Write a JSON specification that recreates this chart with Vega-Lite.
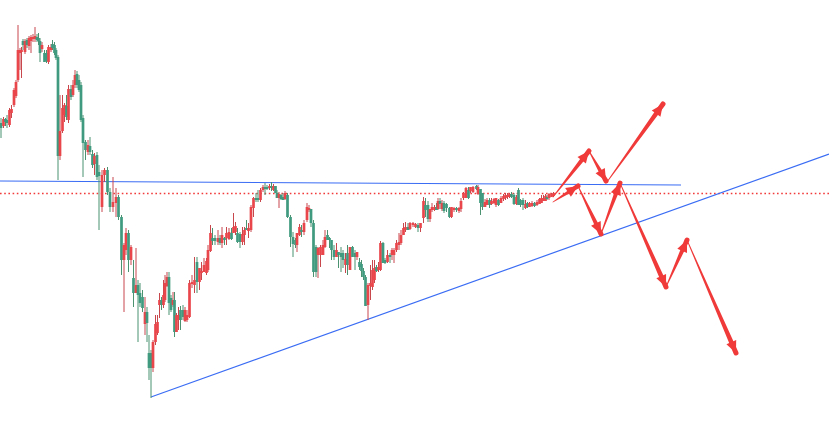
{
"$schema": "https://vega.github.io/schema/vega-lite/v6.json",
"width": 829, "height": 433,
"autosize": "none",
"padding": 0,
"background": "white",
"config": {"view": {"stroke": null}, "scale": {"continuousPadding": 0}},
"datasets": {
"candles": [
{"t":1,"o":123,"c":128,"h":118,"l":138},{"t":3.5,"o":126,"c":119,"h":117,"l":128},{"t":5.5,"o":119,"c":122,"h":118,"l":126},{"t":7,"o":120,"c":123,"h":115,"l":128},{"t":9.5,"o":125,"c":110,"h":108,"l":127},
{"t":11.5,"o":113,"c":109,"h":105,"l":118},{"t":14,"o":105,"c":90,"h":88,"l":107},{"t":16,"o":96,"c":82,"h":80,"l":98},{"t":18,"o":80,"c":50,"h":25,"l":82},{"t":20,"o":53,"c":50,"h":48,"l":70},
{"t":21.5,"o":52,"c":50,"h":47,"l":78},{"t":23,"o":41,"c":45,"h":39,"l":50},{"t":25,"o":52,"c":41,"h":39,"l":54},{"t":27,"o":40,"c":45,"h":38,"l":48},{"t":29,"o":46,"c":38,"h":36,"l":50},
{"t":31,"o":41,"c":37,"h":35,"l":53},{"t":33,"o":39,"c":37,"h":34,"l":42},{"t":35,"o":39,"c":36,"h":27,"l":42},{"t":37,"o":37,"c":40,"h":34,"l":42},{"t":38.5,"o":38,"c":41,"h":33,"l":45},
{"t":40,"o":41,"c":53,"h":38,"l":62},{"t":42,"o":49,"c":45,"h":42,"l":52},{"t":44.5,"o":53,"c":62,"h":50,"l":62},{"t":46.5,"o":53,"c":61,"h":50,"l":63},{"t":48.5,"o":62,"c":47,"h":45,"l":64},
{"t":51,"o":50,"c":47,"h":44,"l":52},{"t":52.5,"o":44,"c":48,"h":40,"l":50},{"t":54.5,"o":45,"c":53,"h":42,"l":55},{"t":56,"o":50,"c":58,"h":48,"l":60},{"t":58,"o":57,"c":156,"h":55,"l":180},
{"t":60,"o":156,"c":131,"h":95,"l":160},{"t":62.5,"o":131,"c":108,"h":95,"l":133},{"t":64.5,"o":115,"c":105,"h":103,"l":122},{"t":66.5,"o":106,"c":117,"h":95,"l":120},{"t":68.5,"o":120,"c":89,"h":85,"l":123},
{"t":71,"o":89,"c":97,"h":85,"l":100},{"t":73,"o":95,"c":85,"h":80,"l":97},{"t":75,"o":85,"c":75,"h":70,"l":88},{"t":77,"o":74,"c":85,"h":71,"l":88},{"t":79,"o":80,"c":90,"h":75,"l":92},
{"t":81,"o":85,"c":120,"h":82,"l":122},{"t":83,"o":118,"c":143,"h":115,"l":177},{"t":85.5,"o":142,"c":150,"h":140,"l":160},{"t":88,"o":152,"c":145,"h":140,"l":155},{"t":90,"o":146,"c":152,"h":137,"l":155},
{"t":92.5,"o":154,"c":165,"h":150,"l":168},{"t":94.5,"o":164,"c":156,"h":153,"l":175},{"t":97,"o":155,"c":177,"h":152,"l":180},{"t":99,"o":172,"c":176,"h":165,"l":230},{"t":102,"o":207,"c":175,"h":170,"l":212},
{"t":104.5,"o":175,"c":170,"h":168,"l":182},{"t":107.5,"o":170,"c":192,"h":167,"l":195},{"t":110,"o":192,"c":207,"h":188,"l":212},{"t":113,"o":207,"c":202,"h":177,"l":212},{"t":116,"o":203,"c":197,"h":188,"l":217},
{"t":118.5,"o":197,"c":217,"h":195,"l":220},{"t":121.5,"o":217,"c":260,"h":215,"l":275},{"t":124,"o":260,"c":245,"h":243,"l":312},{"t":126,"o":250,"c":233,"h":228,"l":255},{"t":128.5,"o":233,"c":260,"h":230,"l":272},
{"t":131,"o":260,"c":247,"h":245,"l":265},{"t":133.5,"o":278,"c":293,"h":260,"l":307},{"t":136,"o":293,"c":285,"h":248,"l":293},{"t":138,"o":285,"c":295,"h":280,"l":342},{"t":140,"o":293,"c":303,"h":283,"l":307},
{"t":142.5,"o":297,"c":308,"h":290,"l":312},{"t":145,"o":324,"c":312,"h":297,"l":335},{"t":147,"o":312,"c":323,"h":307,"l":342},{"t":149,"o":353,"c":368,"h":335,"l":380},{"t":151,"o":353,"c":368,"h":350,"l":398},
{"t":153,"o":368,"c":342,"h":340,"l":372},{"t":155.5,"o":342,"c":324,"h":315,"l":345},{"t":157.5,"o":333,"c":322,"h":315,"l":335},{"t":159.5,"o":305,"c":300,"h":293,"l":318},{"t":161.5,"o":300,"c":305,"h":297,"l":310},
{"t":163.5,"o":305,"c":295,"h":280,"l":308},{"t":165,"o":300,"c":283,"h":275,"l":302},{"t":167,"o":286,"c":277,"h":272,"l":287},{"t":169,"o":277,"c":303,"h":272,"l":315},{"t":171,"o":298,"c":310,"h":295,"l":312},
{"t":173,"o":305,"c":300,"h":292,"l":307},{"t":174.5,"o":300,"c":332,"h":292,"l":337},{"t":176.5,"o":332,"c":315,"h":313,"l":332},{"t":178.5,"o":320,"c":315,"h":307,"l":330},{"t":180.5,"o":310,"c":320,"h":306,"l":330},
{"t":183,"o":310,"c":317,"h":305,"l":320},{"t":185,"o":321,"c":310,"h":307,"l":322},{"t":187,"o":320,"c":315,"h":310,"l":322},{"t":189.5,"o":317,"c":283,"h":280,"l":318},{"t":192,"o":284,"c":282,"h":275,"l":288},
{"t":194.5,"o":285,"c":280,"h":257,"l":293},{"t":197,"o":262,"c":282,"h":257,"l":293},{"t":199.5,"o":282,"c":268,"h":268,"l":290},{"t":201.5,"o":273,"c":271,"h":262,"l":280},{"t":204,"o":272,"c":265,"h":258,"l":272},
{"t":206.5,"o":273,"c":261,"h":258,"l":275},{"t":208,"o":270,"c":250,"h":245,"l":272},{"t":210.5,"o":251,"c":233,"h":225,"l":252},{"t":212.5,"o":238,"c":241,"h":228,"l":245},{"t":215,"o":238,"c":241,"h":235,"l":245},
{"t":218,"o":242,"c":238,"h":230,"l":245},{"t":220,"o":238,"c":243,"h":235,"l":245},{"t":222,"o":243,"c":235,"h":227,"l":248},{"t":224.5,"o":238,"c":240,"h":237,"l":245},{"t":226.5,"o":238,"c":233,"h":227,"l":245},
{"t":229,"o":239,"c":232,"h":228,"l":240},{"t":231.5,"o":233,"c":239,"h":228,"l":240},{"t":233.5,"o":233,"c":227,"h":213,"l":233},{"t":235.5,"o":232,"c":226,"h":222,"l":235},{"t":237.5,"o":233,"c":242,"h":228,"l":243},
{"t":240,"o":234,"c":242,"h":232,"l":248},{"t":242.5,"o":242,"c":234,"h":227,"l":245},{"t":244.5,"o":235,"c":230,"h":227,"l":245},{"t":246.5,"o":228,"c":230,"h":220,"l":230},{"t":248.5,"o":231,"c":228,"h":223,"l":238},
{"t":251,"o":230,"c":207,"h":205,"l":232},{"t":253.5,"o":208,"c":198,"h":197,"l":217},{"t":256,"o":198,"c":200,"h":193,"l":202},{"t":258,"o":198,"c":200,"h":190,"l":202},{"t":260.5,"o":200,"c":190,"h":188,"l":202},
{"t":263,"o":190,"c":187,"h":185,"l":192},{"t":265,"o":187,"c":189,"h":183,"l":195},{"t":267,"o":187,"c":189,"h":185,"l":190},{"t":269.5,"o":188,"c":186,"h":184,"l":190},{"t":271.5,"o":186,"c":188,"h":182,"l":191},
{"t":273.5,"o":190,"c":186,"h":184,"l":191},{"t":275.5,"o":186,"c":193,"h":186,"l":193},{"t":277,"o":193,"c":198,"h":190,"l":198},{"t":279,"o":198,"c":194,"h":192,"l":208},{"t":281,"o":195,"c":199,"h":194,"l":200},
{"t":283,"o":197,"c":200,"h":193,"l":200},{"t":285,"o":199,"c":193,"h":191,"l":200},{"t":287.5,"o":195,"c":217,"h":193,"l":218},{"t":290.5,"o":217,"c":237,"h":215,"l":247},{"t":293,"o":237,"c":244,"h":232,"l":257},
{"t":295.5,"o":240,"c":245,"h":238,"l":248},{"t":297,"o":245,"c":233,"h":233,"l":252},{"t":299.5,"o":235,"c":227,"h":224,"l":236},{"t":301.5,"o":230,"c":232,"h":225,"l":237},{"t":304,"o":232,"c":223,"h":220,"l":235},
{"t":307,"o":220,"c":207,"h":203,"l":222},{"t":309,"o":210,"c":208,"h":205,"l":212},{"t":311,"o":209,"c":223,"h":209,"l":227},{"t":313.5,"o":223,"c":272,"h":220,"l":277},{"t":316,"o":247,"c":272,"h":245,"l":277},
{"t":318,"o":255,"c":248,"h":247,"l":278},{"t":320.5,"o":255,"c":247,"h":245,"l":267},{"t":323,"o":255,"c":245,"h":240,"l":255},{"t":325,"o":247,"c":237,"h":230,"l":248},{"t":327.5,"o":235,"c":240,"h":230,"l":240},
{"t":329.5,"o":238,"c":240,"h":237,"l":248},{"t":331.5,"o":240,"c":250,"h":240,"l":260},{"t":334,"o":250,"c":257,"h":245,"l":260},{"t":336.5,"o":257,"c":250,"h":243,"l":257},{"t":338.5,"o":252,"c":255,"h":252,"l":268},
{"t":341,"o":253,"c":257,"h":247,"l":272},{"t":343,"o":253,"c":260,"h":250,"l":268},{"t":345.5,"o":265,"c":259,"h":253,"l":273},{"t":347.5,"o":253,"c":265,"h":245,"l":275},{"t":350,"o":270,"c":247,"h":247,"l":270},
{"t":352.5,"o":247,"c":257,"h":246,"l":257},{"t":355,"o":253,"c":257,"h":250,"l":270},{"t":357,"o":257,"c":252,"h":252,"l":260},{"t":359.5,"o":262,"c":267,"h":258,"l":270},{"t":361.5,"o":264,"c":271,"h":260,"l":277},
{"t":363.5,"o":271,"c":277,"h":268,"l":280},{"t":365.5,"o":277,"c":306,"h":275,"l":306},{"t":368,"o":305,"c":285,"h":283,"l":320},{"t":370.5,"o":286,"c":283,"h":265,"l":300},{"t":372.5,"o":287,"c":270,"h":260,"l":290},
{"t":374.5,"o":280,"c":268,"h":260,"l":283},{"t":376.5,"o":267,"c":271,"h":265,"l":272},{"t":378.5,"o":270,"c":267,"h":262,"l":272},{"t":380.5,"o":270,"c":243,"h":241,"l":271},{"t":383,"o":243,"c":263,"h":242,"l":263},
{"t":385,"o":260,"c":263,"h":258,"l":264},{"t":387.5,"o":262,"c":255,"h":250,"l":263},{"t":390,"o":255,"c":257,"h":253,"l":263},{"t":392,"o":255,"c":250,"h":248,"l":260},{"t":394,"o":255,"c":250,"h":248,"l":263},
{"t":396.5,"o":250,"c":243,"h":240,"l":252},{"t":399,"o":245,"c":242,"h":233,"l":250},{"t":401,"o":243,"c":235,"h":230,"l":245},{"t":403.5,"o":235,"c":228,"h":223,"l":235},{"t":405.5,"o":230,"c":227,"h":222,"l":232},
{"t":408,"o":227,"c":230,"h":223,"l":230},{"t":410,"o":229,"c":223,"h":222,"l":230},{"t":413,"o":225,"c":223,"h":222,"l":227},{"t":415.5,"o":227,"c":224,"h":223,"l":228},{"t":418,"o":225,"c":228,"h":223,"l":232},
{"t":420.5,"o":228,"c":223,"h":223,"l":232},{"t":423.5,"o":218,"c":201,"h":197,"l":223},{"t":425.5,"o":205,"c":210,"h":198,"l":217},{"t":428,"o":205,"c":219,"h":201,"l":222},{"t":430,"o":219,"c":209,"h":209,"l":222},
{"t":432,"o":210,"c":207,"h":203,"l":212},{"t":434.5,"o":210,"c":207,"h":205,"l":211},{"t":436.5,"o":207,"c":210,"h":203,"l":210},{"t":438,"o":209,"c":201,"h":198,"l":210},{"t":440,"o":201,"c":204,"h":198,"l":209},
{"t":442,"o":209,"c":203,"h":200,"l":211},{"t":444,"o":203,"c":211,"h":201,"l":213},{"t":446.5,"o":204,"c":208,"h":203,"l":212},{"t":449.5,"o":208,"c":217,"h":207,"l":218},{"t":451.5,"o":217,"c":207,"h":207,"l":218},
{"t":454,"o":210,"c":208,"h":207,"l":212},{"t":456.5,"o":208,"c":210,"h":207,"l":212},{"t":459,"o":211,"c":208,"h":207,"l":213},{"t":461,"o":209,"c":201,"h":198,"l":212},{"t":463.5,"o":198,"c":193,"h":192,"l":200},
{"t":466,"o":198,"c":188,"h":187,"l":198},{"t":468.5,"o":190,"c":198,"h":187,"l":199},{"t":470.5,"o":191,"c":187,"h":187,"l":193},{"t":473,"o":192,"c":187,"h":186,"l":193},{"t":476.5,"o":186,"c":189,"h":185,"l":190},
{"t":478,"o":194,"c":187,"h":185,"l":195},{"t":480.5,"o":189,"c":203,"h":189,"l":215},{"t":482.5,"o":193,"c":207,"h":193,"l":210},{"t":485,"o":207,"c":202,"h":199,"l":207},{"t":487,"o":205,"c":200,"h":198,"l":205},
{"t":489.5,"o":200,"c":205,"h":198,"l":208},{"t":491.5,"o":204,"c":201,"h":198,"l":205},{"t":494,"o":203,"c":199,"h":198,"l":204},{"t":496,"o":205,"c":198,"h":198,"l":207},{"t":498.5,"o":200,"c":205,"h":199,"l":206},
{"t":501,"o":203,"c":198,"h":196,"l":203},{"t":503.5,"o":199,"c":196,"h":194,"l":201},{"t":505.5,"o":198,"c":195,"h":193,"l":200},{"t":507.5,"o":197,"c":195,"h":193,"l":199},{"t":509.5,"o":197,"c":194,"h":193,"l":198},
{"t":511.5,"o":194,"c":197,"h":192,"l":198},{"t":514,"o":195,"c":204,"h":193,"l":205},{"t":516.5,"o":204,"c":197,"h":195,"l":205},{"t":518.5,"o":190,"c":205,"h":188,"l":205},{"t":520.5,"o":200,"c":205,"h":199,"l":207},
{"t":523,"o":200,"c":205,"h":198,"l":210},{"t":525.5,"o":208,"c":204,"h":200,"l":209},{"t":527.5,"o":203,"c":207,"h":202,"l":208},{"t":529.5,"o":207,"c":203,"h":202,"l":207},{"t":532,"o":206,"c":203,"h":201,"l":207},
{"t":534.5,"o":203,"c":206,"h":202,"l":207},{"t":537,"o":205,"c":202,"h":200,"l":206},{"t":539.5,"o":204,"c":199,"h":198,"l":204},{"t":541.5,"o":203,"c":198,"h":195,"l":203},{"t":543.5,"o":201,"c":198,"h":195,"l":201},
{"t":545.5,"o":201,"c":196,"h":194,"l":201},{"t":547,"o":197,"c":199,"h":195,"l":200},{"t":549,"o":198,"c":194,"h":193,"l":200},{"t":551.5,"o":197,"c":194,"h":193,"l":197},{"t":553.5,"o":196,"c":193,"h":192,"l":197}
],
"lines": [
{"name":"resistance","t1":0,"p1":181,"t2":681,"p2":185},
{"name":"support","t1":151,"p1":397,"t2":829,"p2":154}
],
"dotted": [
{"name":"level","t1":0,"p1":193.5,"t2":829,"p2":193.5}
],
"arrows": [
{"seg":"A1","pt":0,"t":553,"p":197},{"seg":"A1","pt":1,"t":589,"p":151},
{"seg":"A2","pt":0,"t":589,"p":151},{"seg":"A2","pt":1,"t":606,"p":181},
{"seg":"A3","pt":0,"t":607,"p":182},{"seg":"A3","pt":1,"t":663,"p":104},
{"seg":"B1","pt":0,"t":553,"p":202},{"seg":"B1","pt":1,"t":578,"p":186},
{"seg":"B2","pt":0,"t":578,"p":186},{"seg":"B2","pt":1,"t":601,"p":234},
{"seg":"B3","pt":0,"t":601,"p":234},{"seg":"B3","pt":1,"t":620,"p":183},
{"seg":"B4","pt":0,"t":620,"p":183},{"seg":"B4","pt":1,"t":666,"p":287},
{"seg":"B5","pt":0,"t":666,"p":287},{"seg":"B5","pt":1,"t":687,"p":240},
{"seg":"B6","pt":0,"t":687,"p":240},{"seg":"B6","pt":1,"t":736,"p":353}
]
},
"layer": [
{
"data": {"name": "dotted"},
"mark": {"type": "rule", "color": "#f23a3a", "strokeWidth": 1.5, "strokeDash": [1.6, 2.6]},
"encoding": {
"x": {"field": "t1", "type": "quantitative", "scale": {"domain": [0, 829], "nice": false, "zero": false, "padding": 0}, "axis": null},
"y": {"field": "p1", "type": "quantitative", "scale": {"domain": [0, 433], "nice": false, "zero": false, "reverse": true, "padding": 0}, "axis": null},
"x2": {"field": "t2"}, "y2": {"field": "p2"}
}
},
{
"data": {"name": "lines"},
"mark": {"type": "rule", "color": "#3a6cf4", "strokeWidth": 1.2},
"encoding": {
"x": {"field": "t1", "type": "quantitative", "scale": {"domain": [0, 829], "nice": false, "zero": false, "padding": 0}, "axis": null},
"y": {"field": "p1", "type": "quantitative", "scale": {"domain": [0, 433], "nice": false, "zero": false, "reverse": true, "padding": 0}, "axis": null},
"x2": {"field": "t2"}, "y2": {"field": "p2"}
}
},
{
"data": {"name": "candles"},
"mark": {"type": "rule", "strokeWidth": 1},
"encoding": {
"x": {"field": "t", "type": "quantitative", "scale": {"domain": [0, 829], "nice": false, "zero": false, "padding": 0}, "axis": null},
"y": {"field": "h", "type": "quantitative", "scale": {"domain": [0, 433], "nice": false, "zero": false, "reverse": true, "padding": 0}, "axis": null},
"y2": {"field": "l"},
"color": {"condition": {"test": "datum.c < datum.o", "value": "#c8474c"}, "value": "#4a9270"}
}
},
{
"data": {"name": "candles"},
"mark": {"type": "bar", "size": 2.7},
"encoding": {
"x": {"field": "t", "type": "quantitative", "scale": {"domain": [0, 829], "nice": false, "zero": false, "padding": 0}, "axis": null},
"y": {"field": "o", "type": "quantitative", "scale": {"domain": [0, 433], "nice": false, "zero": false, "reverse": true, "padding": 0}, "axis": null},
"y2": {"field": "c"},
"color": {"condition": {"test": "datum.c < datum.o", "value": "#e9464b"}, "value": "#3f9a7f"}
}
},
{
"data": {"name": "arrows"},
"mark": {"type": "trail", "color": "#f03a3a"},
"encoding": {
"x": {"field": "t", "type": "quantitative", "scale": {"domain": [0, 829], "nice": false, "zero": false, "padding": 0}, "axis": null},
"y": {"field": "p", "type": "quantitative", "scale": {"domain": [0, 433], "nice": false, "zero": false, "reverse": true, "padding": 0}, "axis": null},
"detail": {"field": "seg", "type": "nominal"},
"order": {"field": "pt", "type": "quantitative"},
"size": {"field": "pt", "type": "quantitative", "scale": {"domain": [0, 1], "range": [0.8, 5]}, "legend": null}
}
},
{
"data": {"name": "arrows"},
"transform": [
{"window": [{"op": "lag", "field": "t", "as": "t0"}, {"op": "lag", "field": "p", "as": "p0"}], "groupby": ["seg"], "sort": [{"field": "pt"}]},
{"filter": "datum.pt == 1"},
{"calculate": "atan2(datum.t - datum.t0, datum.p0 - datum.p) * 180 / PI", "as": "ang"}
],
"mark": {"type": "point", "filled": true, "opacity": 1, "color": "#f03a3a", "shape": "M0,0L0.45,1L-0.45,1Z", "size": 560},
"encoding": {
"x": {"field": "t", "type": "quantitative", "scale": {"domain": [0, 829], "nice": false, "zero": false, "padding": 0}, "axis": null},
"y": {"field": "p", "type": "quantitative", "scale": {"domain": [0, 433], "nice": false, "zero": false, "reverse": true, "padding": 0}, "axis": null},
"angle": {"field": "ang", "type": "quantitative", "scale": null}
}
}
]
}
